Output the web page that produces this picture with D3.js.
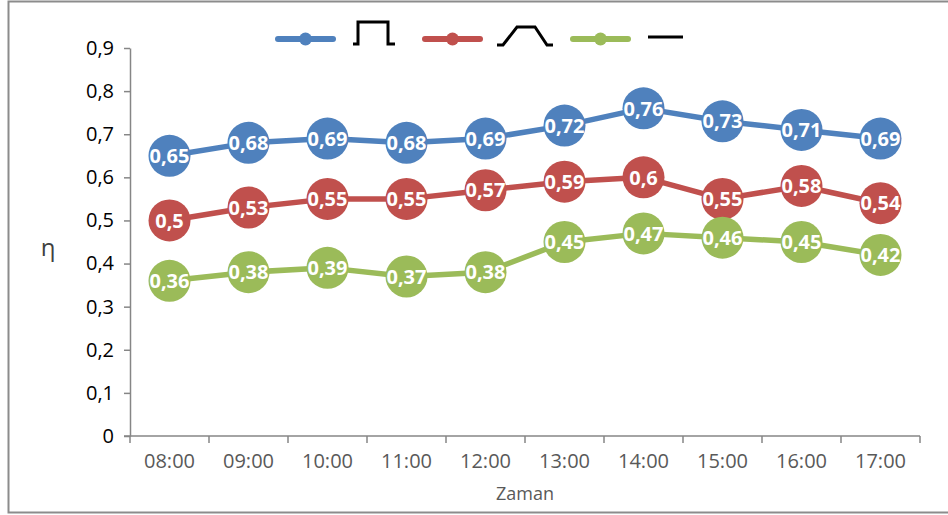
<!DOCTYPE html>
<html>
<head>
<meta charset="utf-8">
<script src="https://cdn.jsdelivr.net/npm/d3@7"></script>
<style>
  html, body { margin: 0; padding: 0; background: #fff; }
  svg { display: block; }
</style>
</head>
<body>
<svg id="chart" width="948" height="515"></svg>
<script>
// Hourly efficiency for three signal shapes
const categories = ["08:00", "09:00", "10:00", "11:00", "12:00", "13:00", "14:00", "15:00", "16:00", "17:00"];
const pulseValues = [0.65, 0.68, 0.69, 0.68, 0.69, 0.72, 0.76, 0.73, 0.71, 0.69];
const trapezoidValues = [0.50, 0.53, 0.55, 0.55, 0.57, 0.59, 0.60, 0.55, 0.58, 0.54];
const flatValues = [0.36, 0.38, 0.39, 0.37, 0.38, 0.45, 0.47, 0.46, 0.45, 0.42];
const yTicks = [0, 0.1, 0.2, 0.3, 0.4, 0.5, 0.6, 0.7, 0.8, 0.9];
const yTitle = "η";
const xTitle = "Zaman";

const series = [
  { key: "pulse", values: pulseValues, color: "#4F81BD" },
  { key: "trapezoid", values: trapezoidValues, color: "#C0504D" },
  { key: "flat", values: flatValues, color: "#9BBB59" }
];

const svg = d3.select("#chart");
const axisColor = "#868686";
const textColor = "#000";
const font = "'Open Sans', 'Noto Sans', sans-serif";

// Chart frame
svg.append("path")
  .attr("d", "M960,1.5 H8.5 V512.5 H960")
  .attr("fill", "none")
  .attr("stroke", "#8c8c8c")
  .attr("stroke-width", 2);

const plot = { left: 130, right: 920, top: 48, bottom: 436 };

const x = d3.scaleBand().domain(categories).range([plot.left, plot.right]);
const y = d3.scaleLinear().domain([0, 0.9]).range([plot.bottom, plot.top]);

const comma = d3.formatLocale({ decimal: ",", thousands: ".", grouping: [3], currency: ["", ""] });
const fmt = v => v === 0 ? "0" : comma.format("~g")(v);

// Y axis
const yAxis = svg.append("g")
  .attr("transform", `translate(${plot.left},0)`)
  .call(d3.axisLeft(y).tickValues(yTicks).tickFormat(fmt).tickSize(6).tickSizeOuter(0).tickPadding(10));
yAxis.select(".domain").attr("stroke", axisColor).attr("stroke-width", 1.5);
yAxis.selectAll(".tick line").attr("stroke", axisColor).attr("stroke-width", 1.5);
yAxis.selectAll(".tick text")
  .attr("fill", textColor)
  .style("font-family", font)
  .style("font-size", "20px");

// X axis: line, boundary ticks, centred labels
const xg = svg.append("g").attr("transform", `translate(0,${plot.bottom})`);
xg.append("line")
  .attr("x1", plot.left - 6).attr("x2", plot.right)
  .attr("stroke", axisColor).attr("stroke-width", 1.5);
const bounds = categories.map(c => x(c)).concat([x(categories[categories.length - 1]) + x.bandwidth()]);
xg.selectAll("line.tk").data(bounds).join("line")
  .attr("class", "tk")
  .attr("x1", d => d).attr("x2", d => d)
  .attr("y1", 0).attr("y2", 7)
  .attr("stroke", axisColor).attr("stroke-width", 1.5);
xg.selectAll("text").data(categories).join("text")
  .attr("x", d => x(d) + x.bandwidth() / 2)
  .attr("y", 32)
  .attr("text-anchor", "middle")
  .attr("fill", "#595959")
  .style("font-family", font)
  .style("font-size", "20px")
  .text(d => d);

// Axis titles
svg.append("text")
  .attr("x", 525).attr("y", 500)
  .attr("text-anchor", "middle")
  .attr("fill", "#595959")
  .style("font-family", font)
  .style("font-size", "18px")
  .text(xTitle);
svg.append("text")
  .attr("x", 48).attr("y", 256)
  .attr("text-anchor", "middle")
  .attr("fill", "#404040")
  .style("font-family", font)
  .style("font-size", "24px")
  .text(yTitle);

// Series lines, markers and value labels
const line = d3.line()
  .x((d, i) => x(categories[i]) + x.bandwidth() / 2)
  .y(d => y(d));

series.forEach(s => {
  const g = svg.append("g");
  g.append("path")
    .datum(s.values)
    .attr("d", line)
    .attr("fill", "none")
    .attr("stroke", s.color)
    .attr("stroke-width", 5.5)
    .attr("stroke-linejoin", "round");
  g.selectAll("circle").data(s.values).join("circle")
    .attr("cx", (d, i) => x(categories[i]) + x.bandwidth() / 2)
    .attr("cy", d => y(d))
    .attr("r", 21)
    .attr("fill", s.color);
  g.selectAll("text").data(s.values).join("text")
    .attr("x", (d, i) => x(categories[i]) + x.bandwidth() / 2)
    .attr("y", d => y(d))
    .attr("dy", "0.36em")
    .attr("text-anchor", "middle")
    .attr("fill", "#fff")
    .style("font-family", font)
    .style("font-weight", "bold")
    .style("font-size", "20px")
    .text(d => fmt(d));
});

// Legend: coloured line keys followed by waveform glyphs
const legendY = 39;
const legend = svg.append("g");
const keyStarts = [278, 425, 573];
const glyphs = [
  "M353,44 H358 V22 H388 V44 H395",
  "M497,45 H503 L517,27 H535 L547,45 H553",
  "M648,37 H683"
];
series.forEach((s, i) => {
  const x0 = keyStarts[i];
  legend.append("line")
    .attr("x1", x0).attr("x2", x0 + 55)
    .attr("y1", legendY).attr("y2", legendY)
    .attr("stroke", s.color).attr("stroke-width", 6)
    .attr("stroke-linecap", "round");
  legend.append("circle")
    .attr("cx", x0 + 27.5).attr("cy", legendY)
    .attr("r", 6.5)
    .attr("fill", s.color);
  legend.append("path")
    .attr("d", glyphs[i])
    .attr("fill", "none")
    .attr("stroke", "#000")
    .attr("stroke-width", 3);
});
</script>
</body>
</html>
